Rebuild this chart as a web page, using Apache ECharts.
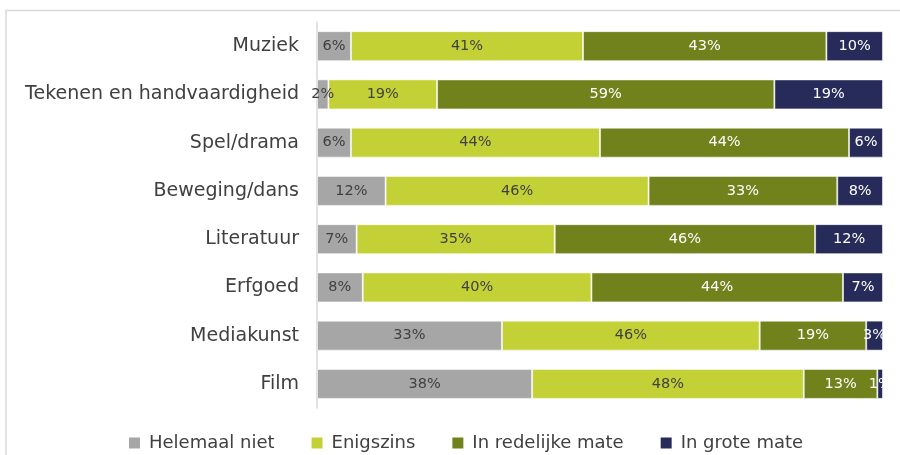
<!DOCTYPE html>
<html>
<head>
<meta charset="utf-8">
<script src="https://cdn.jsdelivr.net/npm/echarts@6/dist/echarts.min.js"></script>
<style>
  html, body { margin: 0; padding: 0; background: #fff; }
  #chart { width: 900px; height: 455px; }
</style>
</head>
<body>
<div id="chart"></div>
<script>
// Categories (top to bottom) and the share per answer, in percent
const categories = ['Muziek', 'Tekenen en handvaardigheid', 'Spel/drama', 'Beweging/dans',
                    'Literatuur', 'Erfgoed', 'Mediakunst', 'Film'];
const seriesNames = ['Helemaal niet', 'Enigszins', 'In redelijke mate', 'In grote mate'];
const helemaalNiet   = [6, 2, 6, 12, 7, 8, 33, 38];
const enigszins      = [41, 19, 44, 46, 35, 40, 46, 48];
const inRedelijkeMate = [43, 59, 44, 33, 46, 44, 19, 13];
const inGroteMate    = [10, 19, 6, 8, 12, 7, 3, 1];

const values = [helemaalNiet, enigszins, inRedelijkeMate, inGroteMate];
const colors = ['#A6A6A6', '#C3D136', '#71821C', '#262B59'];
const labelColors = ['#404040', '#404040', '#FFFFFF', '#FFFFFF'];

// 100% stacked: each row is scaled to its own total, labels keep the stated value
const rowTotals = categories.map((_, i) => values.reduce((s, v) => s + v[i], 0));

const series = values.map((vals, k) => ({
  name: seriesNames[k],
  type: 'bar',
  stack: 'total',
  barWidth: 30,
  itemStyle: { color: colors[k], borderColor: 'rgba(255,255,255,0.55)', borderWidth: 1 },
  label: {
    show: true,
    position: 'inside',
    color: labelColors[k],
    fontFamily: 'DejaVu Sans',
    fontSize: 14.5,
    formatter: p => vals[p.dataIndex] + '%'
  },
  emphasis: { disabled: true },
  data: vals.map((v, i) => ({ value: v / rowTotals[i] * 100 }))
}));

const chart = echarts.init(document.getElementById('chart'));
chart.setOption({
  animation: false,
  textStyle: { fontFamily: 'DejaVu Sans' },
  graphic: [{
    type: 'polyline',
    shape: { points: [[6, 460], [6, 10.5], [905, 10.5]] },
    style: { stroke: '#D9D9D9', lineWidth: 1.5, fill: null },
    silent: true
  }],
  grid: { left: 317, right: 17, top: 22, bottom: 47 },
  xAxis: {
    type: 'value', min: 0, max: 100,
    show: false
  },
  yAxis: {
    type: 'category',
    data: categories,
    inverse: true,
    axisLine: { show: true, lineStyle: { color: '#D9D9D9', width: 1.5 } },
    axisTick: { show: false },
    axisLabel: { color: '#404040', fontSize: 19, margin: 18, fontFamily: 'DejaVu Sans' }
  },
  legend: {
    data: seriesNames,
    left: 124,
    top: 429,
    itemWidth: 11,
    itemHeight: 11,
    itemGap: 37,
    icon: 'rect',
    itemStyle: { borderWidth: 0 },
    textStyle: { color: '#404040', fontSize: 18, fontFamily: 'DejaVu Sans', padding: [0, 0, 0, 4] }
  },
  series: series
});
</script>
</body>
</html>
